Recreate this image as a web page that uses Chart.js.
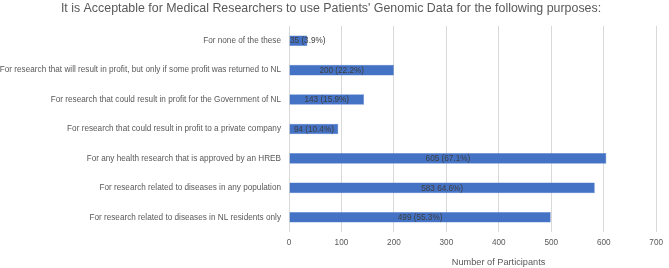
<!DOCTYPE html>
<html>
<head>
<meta charset="utf-8">
<script src="https://cdn.jsdelivr.net/npm/chart.js@4"></script>
<style>
  html, body { margin: 0; padding: 0; background: #fff; }
  #wrap { width: 669px; height: 268px; }
</style>
</head>
<body>
<div id="wrap"><canvas id="purpose-chart"></canvas></div>
<script>
const purposes = [
    'For none of the these',
    'For research that will result in profit, but only if some profit was returned to NL',
    'For research that could result in profit for the Government of NL',
    'For research that could result in profit to a private company',
    'For any health research that is approved by an HREB',
    'For research related to diseases in any population',
    'For research related to diseases in NL residents only'
];
const participants = [35, 200, 143, 94, 605, 583, 499];
const barLabels = ['35 (3.9%)', '200 (22.2%)', '143 (15.9%)', '94 (10.4%)', '605 (67.1%)', '583 64.6%)', '499 (55.3%)'];
const xTicks = [0, 100, 200, 300, 400, 500, 600, 700];

const titleText = "It is Acceptable for Medical Researchers to use Patients' Genomic Data for the following purposes:";
const xTitle = 'Number of Participants';

const greyText = '#595959';
const fontFamily = '"Liberation Sans", Arial, sans-serif';

// labels inside the bars, kept inside the plot on the left
const barLabelPlugin = {
    id: 'barLabels',
    afterDatasetsDraw(chart) {
        const ctx = chart.ctx;
        const meta = chart.getDatasetMeta(0);
        ctx.save();
        ctx.font = '8.2px ' + fontFamily;
        ctx.fillStyle = '#404040';
        ctx.textBaseline = 'middle';
        ctx.textAlign = 'left';
        meta.data.forEach((bar, i) => {
            const text = barLabels[i];
            const w = ctx.measureText(text).width;
            let x = (bar.base + bar.x) / 2 - w / 2;
            if (x < chart.chartArea.left + 1) x = chart.chartArea.left + 1;
            ctx.fillText(text, x, bar.y + 0.5);
        });
        ctx.restore();
    }
};

// axis title sits a bit right of the plot centre in the original
const axisTitlePlugin = {
    id: 'axisTitle',
    afterDraw(chart) {
        const ctx = chart.ctx;
        const area = chart.chartArea;
        ctx.save();
        ctx.font = '9.2px ' + fontFamily;
        ctx.fillStyle = greyText;
        ctx.textAlign = 'center';
        ctx.textBaseline = 'middle';
        ctx.fillText(xTitle, (area.left + area.right) / 2 + 26, 262);
        ctx.restore();
    }
};

new Chart(document.querySelector('#purpose-chart').getContext('2d'), {
    type: 'bar',
    data: {
        labels: purposes,
        datasets: [{
            label: xTitle,
            data: participants,
            backgroundColor: '#4472c4',
            borderColor: '#5a84cf',
            borderWidth: 0.5,
            categoryPercentage: 1,
            barPercentage: 0.36
        }]
    },
    options: {
        indexAxis: 'y',
        responsive: true,
        maintainAspectRatio: false,
        animation: false,
        layout: { padding: { left: 0, right: 7, top: 0, bottom: 0 } },
        plugins: {
            legend: { display: false },
            tooltip: { enabled: false },
            title: {
                display: true,
                text: titleText,
                color: greyText,
                font: { family: fontFamily, size: 12.4, weight: 'normal' },
                padding: { top: 1.5, bottom: 9.6 }
            }
        },
        scales: {
            x: {
                min: 0,
                max: 700,
                afterBuildTicks: scale => { scale.ticks = xTicks.map(v => ({ value: v })); },
                afterFit: scale => { scale.height = 36; },
                grid: { color: '#d9d9d9', drawTicks: false },
                border: { display: false },
                ticks: {
                    color: greyText,
                    padding: 6,
                    font: { family: fontFamily, size: 8.2 }
                }
            },
            y: {
                afterFit: scale => { scale.width = 289; },
                grid: { display: false, drawTicks: false },
                border: { display: false },
                ticks: {
                    color: greyText,
                    padding: 8,
                    autoSkip: false,
                    font: { family: fontFamily, size: 8.2 }
                }
            }
        }
    },
    plugins: [barLabelPlugin, axisTitlePlugin]
});
</script>
</body>
</html>
